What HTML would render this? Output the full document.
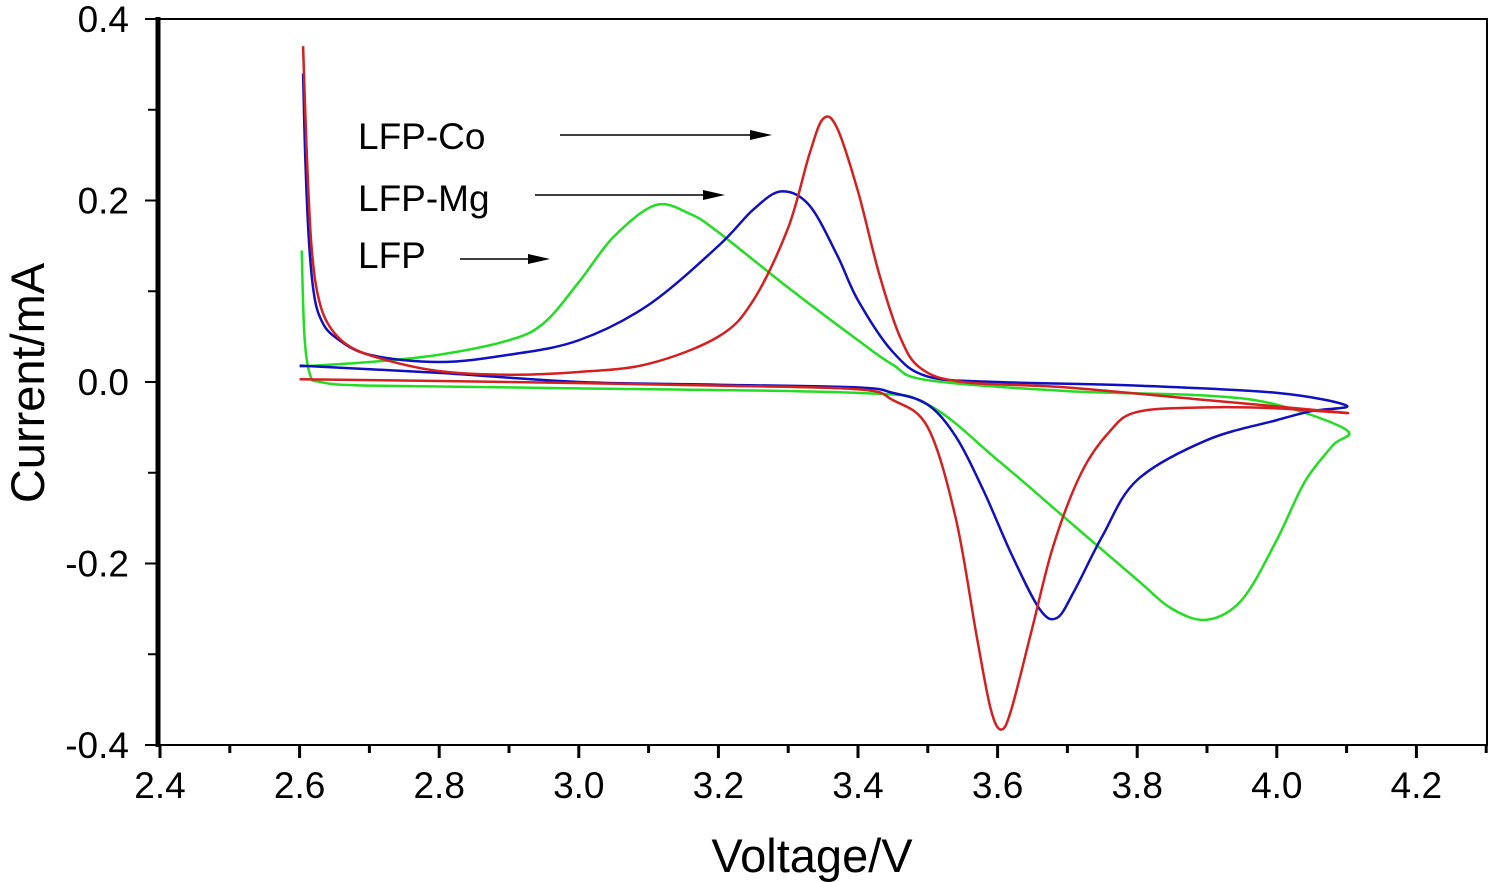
<!DOCTYPE html>
<html><head><meta charset="utf-8"><style>
html,body{margin:0;padding:0;background:#fff;}
svg{display:block;font-family:"Liberation Sans",Arial,sans-serif;}
</style></head><body>
<svg id="chart" width="1493" height="882" viewBox="0 0 1493 882">
<rect x="0" y="0" width="1493" height="882" fill="#fff"/>
<g id="plot"></g>
<g id="axes"></g>
<text x="812" y="872" font-size="47" text-anchor="middle">Voltage/V</text>
<text transform="translate(44,383) rotate(-90)" font-size="47" text-anchor="middle">Current/mA</text>
<g font-size="37">
<text x="358" y="149">LFP-Co</text>
<text x="358" y="211">LFP-Mg</text>
<text x="358" y="268">LFP</text>
<line x1="560" y1="135" x2="752" y2="135" stroke="#000" stroke-width="1.5"/>
<polygon points="772,135 750,130 750,140" fill="#000"/>
<line x1="535" y1="195" x2="705" y2="195" stroke="#000" stroke-width="1.5"/>
<polygon points="725,195 703,190 703,200" fill="#000"/>
<line x1="460" y1="259" x2="530" y2="259" stroke="#000" stroke-width="1.5"/>
<polygon points="550,259 528,254 528,264" fill="#000"/>
</g>
</svg>
<script>
const xTicks=[2.4,2.6,2.8,3.0,3.2,3.4,3.6,3.8,4.0,4.2];
const xTickLabels=["2.4","2.6","2.8","3.0","3.2","3.4","3.6","3.8","4.0","4.2"];
const yTicks=[0.4,0.2,0.0,-0.2,-0.4];
const yTickLabels=["0.4","0.2","0.0","-0.2","-0.4"];
const coV=[2.605,2.608,2.612,2.617,2.625,2.64,2.67,2.72,2.8,2.9,3.0,3.1,3.2,3.25,3.3,3.33,3.35,3.37,3.4,3.43,3.46,3.49,3.55,3.7,3.9,4.1,4.0,3.9,3.8,3.76,3.72,3.68,3.65,3.62,3.605,3.59,3.57,3.54,3.5,3.45,3.4,3.2,2.9,2.6];
const coI=[0.37,0.3,0.22,0.15,0.1,0.065,0.04,0.025,0.012,0.008,0.011,0.02,0.05,0.09,0.17,0.25,0.29,0.28,0.21,0.12,0.05,0.015,0.0,-0.006,-0.02,-0.034,-0.029,-0.028,-0.033,-0.055,-0.1,-0.18,-0.27,-0.36,-0.383,-0.36,-0.28,-0.15,-0.05,-0.02,-0.008,-0.004,0.0,0.003];
const mgV=[2.605,2.608,2.613,2.62,2.63,2.65,2.7,2.8,2.9,3.0,3.1,3.2,3.25,3.29,3.33,3.37,3.4,3.45,3.5,3.6,3.8,4.0,4.1,4.05,4.0,3.9,3.8,3.75,3.71,3.685,3.66,3.62,3.58,3.54,3.5,3.45,3.4,3.2,3.0,2.8,2.6];
const mgI=[0.34,0.25,0.16,0.1,0.07,0.05,0.03,0.022,0.03,0.046,0.085,0.15,0.19,0.21,0.195,0.14,0.09,0.033,0.006,0.0,-0.004,-0.012,-0.026,-0.032,-0.042,-0.064,-0.108,-0.17,-0.23,-0.26,-0.25,-0.19,-0.12,-0.06,-0.025,-0.012,-0.006,-0.003,0.0,0.01,0.018];
const lfpV=[2.6,2.7,2.8,2.9,2.95,3.0,3.05,3.11,3.16,3.2,3.3,3.4,3.45,3.5,3.7,3.9,4.0,4.1,4.08,4.04,4.0,3.95,3.9,3.85,3.8,3.7,3.6,3.5,3.4,3.0,2.7,2.63,2.615,2.607,2.603];
const lfpI=[0.017,0.022,0.03,0.046,0.065,0.11,0.16,0.195,0.185,0.165,0.104,0.046,0.019,0.002,-0.01,-0.015,-0.025,-0.053,-0.07,-0.11,-0.174,-0.24,-0.262,-0.25,-0.218,-0.152,-0.086,-0.025,-0.012,-0.007,-0.004,0.0,0.008,0.05,0.145];
const X=v=>160+(v-2.4)*698;
const Y=i=>382-i*907.5;
const NS="http://www.w3.org/2000/svg";
const plot=document.getElementById('plot'),axes=document.getElementById('axes');
function mk(tag,attrs,parent){const e=document.createElementNS(NS,tag);for(const k in attrs)e.setAttribute(k,attrs[k]);parent.appendChild(e);return e;}
function pathFrom(vs,is){const p=vs.map((v,k)=>[X(v),Y(is[k])]);let d="M"+p[0][0]+","+p[0][1];
for(let k=0;k<p.length-1;k++){const p0=p[k-1]||p[k],p1=p[k],p2=p[k+1],p3=p[k+2]||p2;
d+=" C"+(p1[0]+(p2[0]-p0[0])/6)+","+(p1[1]+(p2[1]-p0[1])/6)+" "+(p2[0]-(p3[0]-p1[0])/6)+","+(p2[1]-(p3[1]-p1[1])/6)+" "+p2[0]+","+p2[1];}return d;}
const series=[[lfpV,lfpI,"#22dd22","series-lfp"],[mgV,mgI,"#1010c0","series-lfp-mg"],[coV,coI,"#d42020","series-lfp-co"]];
series.forEach(s=>{const el=mk('path',{d:pathFrom(s[0],s[1]),fill:'none',stroke:s[2],'stroke-width':2.5},plot);

});
const fr=mk('rect',{x:158,y:19,width:1329,height:726,fill:'none',stroke:'#000','stroke-width':2},axes);


const la=mk('line',{x1:158,y1:17,x2:158,y2:747,stroke:'#000','stroke-width':5},axes);


xTicks.forEach((v,k)=>{const x=X(v);
const t=mk('line',{x1:x,y1:745,x2:x,y2:758,stroke:'#000','stroke-width':3},axes);


const m=mk('line',{x1:x+69.8,y1:745,x2:x+69.8,y2:753,stroke:'#000','stroke-width':3},axes);


const l=mk('text',{x:x,y:798,'font-size':37,'text-anchor':'middle'},axes);l.textContent=xTickLabels[k];

});
yTicks.forEach((v,k)=>{const y=Y(v);
const t=mk('line',{x1:145,y1:y,x2:158,y2:y,stroke:'#000','stroke-width':2},axes);


if(k<yTicks.length-1){const m=mk('line',{x1:148,y1:y+90.75,x2:158,y2:y+90.75,stroke:'#000','stroke-width':2},axes);

}
const l=mk('text',{x:129,y:y+13,'font-size':37,'text-anchor':'end'},axes);l.textContent=yTickLabels[k];

});
</script>
</body></html>
